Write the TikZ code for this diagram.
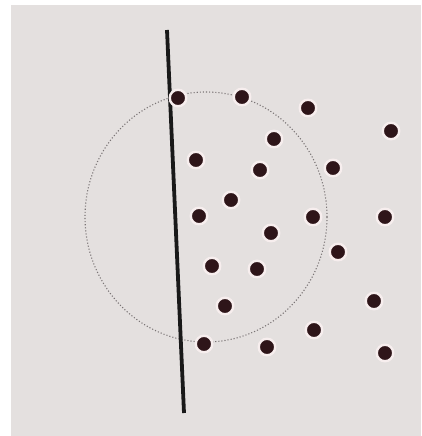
\documentclass[tikz,border=0pt]{standalone}
\definecolor{paper}{HTML}{E4E0DF}
\definecolor{dotc}{HTML}{2E1519}
\definecolor{halo}{HTML}{F7EEEE}
\definecolor{circc}{HTML}{7A7475}
\begin{document}
\begin{tikzpicture}[x=1pt,y=-1pt,
  pt/.style={circle,fill=dotc,draw=halo,line width=2.4pt,minimum size=16.5pt,inner sep=0pt},
  wall/.style={line width=3.8pt,draw=black!90,line cap=butt},
  ring/.style={draw=circc,line width=1.1pt,dotted}]
\useasboundingbox (0,0) rectangle (421,436);
\fill[white] (0,0) rectangle (421,436);
\fill[paper] (11,5) rectangle (421,436);
\draw[ring] (206,217) ellipse [x radius=121,y radius=125];
\coordinate (top) at (167,30);
\coordinate (bot) at (184,413);
\foreach \n/\x/\y in {a/242/97, b/308/108, c/391/131, d/274/139, e/196/160, f/260/170, g/333/168, h/231/200, i/199/216, j/313/217, k/385/217, l/271/233, m/338/252, n/212/266, o/257/269, p/374/301, q/225/306, r/314/330, s/204/344, t/267/347, u/385/353}
  \node[pt] (\n) at (\x,\y) {};
\draw[wall] (top) -- (bot);
\node[pt] (z) at (178,98) {};
\end{tikzpicture}
\end{document}
